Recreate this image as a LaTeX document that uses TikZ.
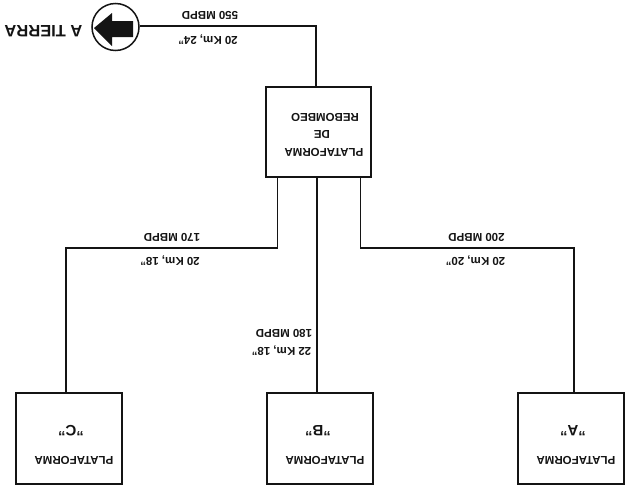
\documentclass[tikz,border=0pt]{standalone}
\usepackage{fontspec}
\setmainfont{Liberation Sans}
\tikzset{
  box/.style={draw=ink,line width=1.2pt,minimum width=106pt,minimum height=91pt,inner sep=0pt,fill=white},
  pipe/.style={draw=ink,line width=1.2pt},
  lbl/.style={rotate=180,inner sep=0pt,text=ink,font=\fontsize{11.5}{13}\selectfont\bfseries},
  blbl/.style={rotate=180,inner sep=0pt,text=ink,font=\fontsize{15}{17}\selectfont\bfseries},
}
\definecolor{ink}{gray}{0.08}
\begin{document}
\begin{tikzpicture}[x=1pt,y=-1pt]
\useasboundingbox (0,0) rectangle (625,490);
\fill[white] (0,0) rectangle (625,490);
% boxes
\node[box,minimum height=90pt,minimum width=105pt] (boxR) at (318.5,132) {};
\node[box] (boxC) at (69,438.5) {};
\node[box] (boxB) at (320,438.5) {};
\node[box] (boxA) at (571,438.5) {};
\node[draw=ink,line width=1.5pt,circle,minimum size=47pt,inner sep=0pt] (tierra) at (115.5,27) {};
% junctions
\coordinate (jT) at (316,26);
\coordinate (jC) at (66,248);
\coordinate (jA) at (574,248);
% connectors
\draw[pipe] (tierra.east |- jT) -- (jT) -- (jT |- boxR.north);
\draw[pipe] (boxR.south -| 277.5,0) -- (277.5,248) -- (jC) -- (jC |- boxC.north);
\draw[pipe] (boxR.south -| 317,0) -- (317,393);
\draw[pipe] (boxR.south -| 360.5,0) -- (360.5,248) -- (jA) -- (jA |- boxA.north);
% arrow
\fill[ink] (94,28) -- (112,13) -- (112,21) -- (133,21) -- (133,37) -- (112,37) -- (112,46) -- cycle;
% texts
\node[rotate=180,inner sep=0pt,text=ink,font=\fontsize{16.5}{18}\selectfont\bfseries] (lT) at (43.5,31) {A TIERRA};
\node[lbl] (t1) at (324,152) {PLATAFORMA};
\node[lbl] (t2) at (322,134) {DE};
\node[lbl] (t3) at (325,117) {REBOMBEO};
\node[lbl] (t4) at (74,460) {PLATAFORMA};
\node[blbl] (t5) at (71,431) {"C"};
\node[lbl] (t6) at (325,460) {PLATAFORMA};
\node[blbl] (t7) at (318,431) {"B"};
\node[lbl] (t8) at (576,460) {PLATAFORMA};
\node[blbl] (t9) at (573,431) {"A"};
\node[lbl] (l1) at (210,15) {550 MBPD};
\node[lbl] (l2) at (208,39.5) {20 Km, 24"};
\node[lbl] (l3) at (172,237) {170 MBPD};
\node[lbl] (l4) at (170,261) {20 Km, 18"};
\node[lbl] (l5) at (284,333) {180 MBPD};
\node[lbl] (l6) at (281.5,351) {22 Km, 18"};
\node[lbl] (l7) at (476.5,237.5) {200 MBPD};
\node[lbl] (l8) at (475.5,261) {20 Km, 20"};
\end{tikzpicture}
\end{document}
